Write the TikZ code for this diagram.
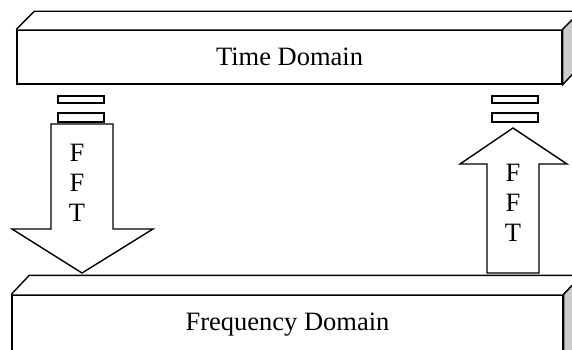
\documentclass[tikz,border=0pt]{standalone}
\usepackage{fontspec}
\setmainfont{Liberation Serif}
\usetikzlibrary{calc}

\tikzset{
  slab/.style={draw, fill=white, inner sep=0pt, minimum width=46pt},
  face/.style={draw, fill=white, inner sep=0pt}
}

\begin{document}
\begin{tikzpicture}[x=1pt, y=-1pt, line width=1.4pt, line join=miter,
    font=\fontsize{26.5}{30}\selectfont]
  \useasboundingbox (0,0) rectangle (572,350);
  \clip (0,0) rectangle (572,350);

  % time slab
  \node[face, minimum width=545pt, minimum height=54pt] (time) at (289.5,57) {Time Domain};
  \draw[fill=white] (time.north west) -- ++(18,-18) -- ($(time.north east)+(18,-18)$) -- (time.north east);
  \draw[fill=black!20] (time.north east) -- ++(18,-18) -- ++(0,54) -- (time.south east) -- cycle;

  % frequency slab
  \node[face, minimum width=551pt, minimum height=60pt] (freq) at (287.5,325) {Frequency Domain};
  \draw[fill=white] (freq.north west) -- ++(18,-19) -- ($(freq.north east)+(18,-19)$) -- (freq.north east);
  \draw[fill=black!20] (freq.north east) -- ++(18,-19) -- ++(0,80) -- (freq.south east) -- cycle;

  % small bars above the arrows
  \node[slab, minimum height=7pt] (barA) at (81,99.5) {};
  \node[slab, minimum height=9pt] (barB) at (81,117.5) {};
  \node[slab, minimum height=7pt] (barC) at (515,99.5) {};
  \node[slab, minimum height=9pt] (barD) at (515,117.5) {};

  % forward transform, down
  \draw[fill=white] (51,124) -- (113,124) -- (113,229) -- (153,229) -- (82,273)
    -- (12,229) -- (51,229) -- cycle;
  \node[align=center, inner sep=0pt] (fwd) at (77,183) {F\\F\\T};

  % inverse transform, up
  \draw[fill=white] (487,273) -- (539,273) -- (539,164) -- (567,164) -- (513,128)
    -- (460,164) -- (487,164) -- cycle;
  \node[align=center, inner sep=0pt] (inv) at (513,203) {F\\F\\T};
\end{tikzpicture}
\end{document}
